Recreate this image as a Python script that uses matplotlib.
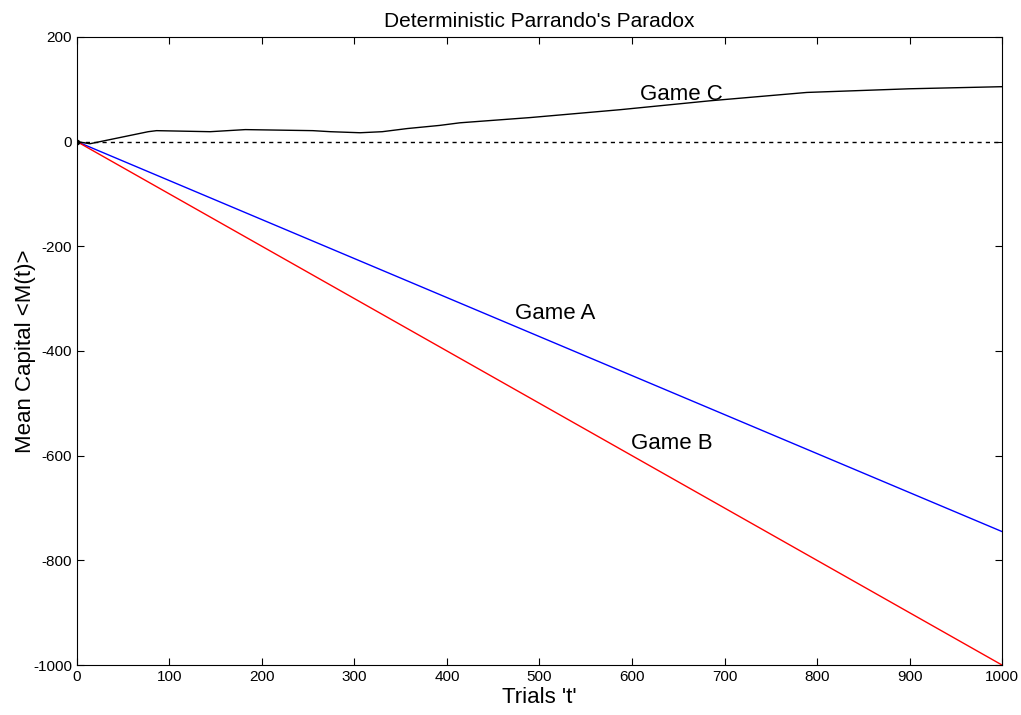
import matplotlib
matplotlib.use("Agg")
import matplotlib.pyplot as plt

plt.rcParams['font.family'] = ['Liberation Sans', 'DejaVu Sans']
plt.rcParams['axes.unicode_minus'] = False

# Game A and B: straight lines (endpoints)
trials_ab = [0, 1000]
game_a = [0, -745]
game_b = [0, -1000]

# Game C
trials_c = [0, 14, 77, 86, 144, 182, 255, 274, 306, 330, 357, 392, 414, 490, 587, 684, 789, 900, 1000]
game_c = [0, -4, 19, 21, 19, 23, 21, 19, 17, 19, 25, 31, 36, 46, 61, 78, 94, 101, 105]

xticks = list(range(0, 1001, 100))
yticks = list(range(-1000, 201, 200))

fig = plt.figure(figsize=(10.21, 7.15), dpi=100)
ax = fig.add_axes([0.0754, 0.0699, 0.906, 0.8784])

ax.plot(trials_ab, game_a, color='#0000ff', lw=1.0)
ax.plot(trials_ab, game_b, color='#ff0000', lw=1.0)
ax.plot(trials_c, game_c, color='black', lw=1.0)
ax.axhline(0, color='black', lw=1.0, ls=(0, (3, 3)))
ax.plot([0], [0], 'o', color='black', ms=3)

ax.text(653, 80, 'Game C', fontsize=16, ha='center', va='baseline')
ax.text(517, -338, 'Game A', fontsize=16, ha='center', va='baseline')
ax.text(643, -587, 'Game B', fontsize=16, ha='center', va='baseline')

ax.set_xlim(0, 1000)
ax.set_ylim(-1000, 200)
ax.set_xticks(xticks)
ax.set_yticks(yticks)
ax.tick_params(direction='in', top=True, right=True, labelsize=11, length=5)
ax.set_title("Deterministic Parrando's Paradox", fontsize=15, pad=7)
ax.set_xlabel("Trials 't'", fontsize=16, labelpad=2)
ax.set_ylabel("Mean Capital <M(t)>", fontsize=16, labelpad=-2)
for s in ax.spines.values():
    s.set_linewidth(0.8)

fig.savefig('out.png', dpi=100, facecolor='white')
